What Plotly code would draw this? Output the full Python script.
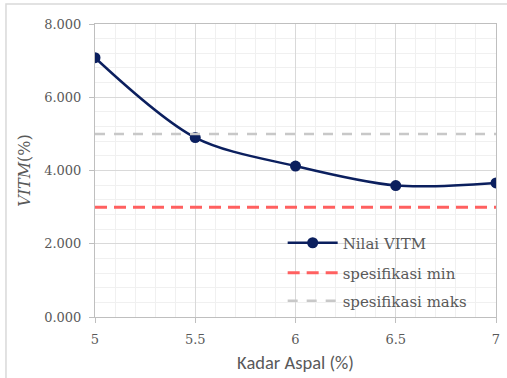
import plotly.graph_objects as go

# Kadar aspal (%) vs VITM (%)
kadar_aspal = [5, 5.5, 6, 6.5, 7]
nilai_vitm = [7.08, 4.90, 4.12, 3.59, 3.66]
spes_min = [3.0, 3.0, 3.0, 3.0, 3.0]
spes_maks = [5.0, 5.0, 5.0, 5.0, 5.0]
y_ticks = [0, 2, 4, 6, 8]
x_ticks = [5, 5.5, 6, 6.5, 7]

serif = "DejaVu Serif"
sans = "Carlito"
grey_text = "#595959"

fig = go.Figure()
fig.add_trace(go.Scatter(
    x=kadar_aspal, y=nilai_vitm, name="Nilai VITM", legend="legend",
    mode="lines+markers",
    line=dict(color="#0B1F5E", width=2.5, shape="spline", smoothing=0.9),
    marker=dict(color="#0B1F5E", size=11),
))
fig.add_trace(go.Scatter(
    x=kadar_aspal, y=spes_min, name="spesifikasi min", legend="legend2",
    mode="lines", line=dict(color="#FF6060", width=3, dash="12px,7px"),
))
fig.add_trace(go.Scatter(
    x=kadar_aspal, y=spes_maks, name="spesifikasi maks", legend="legend3",
    mode="lines", line=dict(color="#C8C8C8", width=2.5, dash="10px,9px"),
))

# outer chart frame
fig.add_shape(type="rect", xref="paper", yref="paper",
              x0=-0.222, x1=1.08, y0=-0.26, y1=1.068,
              line=dict(color="#D9D9D9", width=1.5), layer="below")

legend_common = dict(x=0.468, xanchor="left", yanchor="middle",
                     bgcolor="rgba(0,0,0,0)",
                     font=dict(family=serif, size=15, color=grey_text),
                     itemwidth=50)

fig.update_layout(
    width=507, height=378,
    margin=dict(l=95, r=11, t=24, b=61),
    paper_bgcolor="white", plot_bgcolor="white",
    showlegend=True,
    legend=dict(y=0.2526, **legend_common),
    legend2=dict(y=0.150, **legend_common),
    legend3=dict(y=0.0546, **legend_common),
    xaxis=dict(
        range=[5, 7], tickvals=x_ticks, ticktext=[str(v) for v in x_ticks],
        automargin=False,
        showgrid=True, gridcolor="#D9D9D9", gridwidth=1,
        minor=dict(dtick=0.1, showgrid=True, gridcolor="#F0F0F0", gridwidth=1),
        showline=True, linecolor="#BFBFBF", linewidth=1, mirror=True,
        ticks="outside", ticklen=5, tickcolor="#BFBFBF", ticklabelstandoff=5,
        tickfont=dict(family=serif, size=13, color=grey_text),
        title=dict(text="Kadar Aspal (%)", font=dict(family=sans, size=18.5, color=grey_text), standoff=10),
        zeroline=False,
    ),
    yaxis=dict(
        range=[0, 8], tickvals=y_ticks, tickformat=".3f",
        automargin=False,
        showgrid=True, gridcolor="#D9D9D9", gridwidth=1,
        minor=dict(dtick=0.4, showgrid=True, gridcolor="#F0F0F0", gridwidth=1),
        showline=True, linecolor="#BFBFBF", linewidth=1, mirror=True,
        ticks="outside", ticklen=5, tickcolor="#BFBFBF", ticklabelstandoff=5,
        tickfont=dict(family=serif, size=13, color=grey_text),
        title=dict(text="<i>VITM</i>(%)", font=dict(family=serif, size=16, color=grey_text), standoff=9),
        zeroline=False,
    ),
)

fig.write_html("out.html")
